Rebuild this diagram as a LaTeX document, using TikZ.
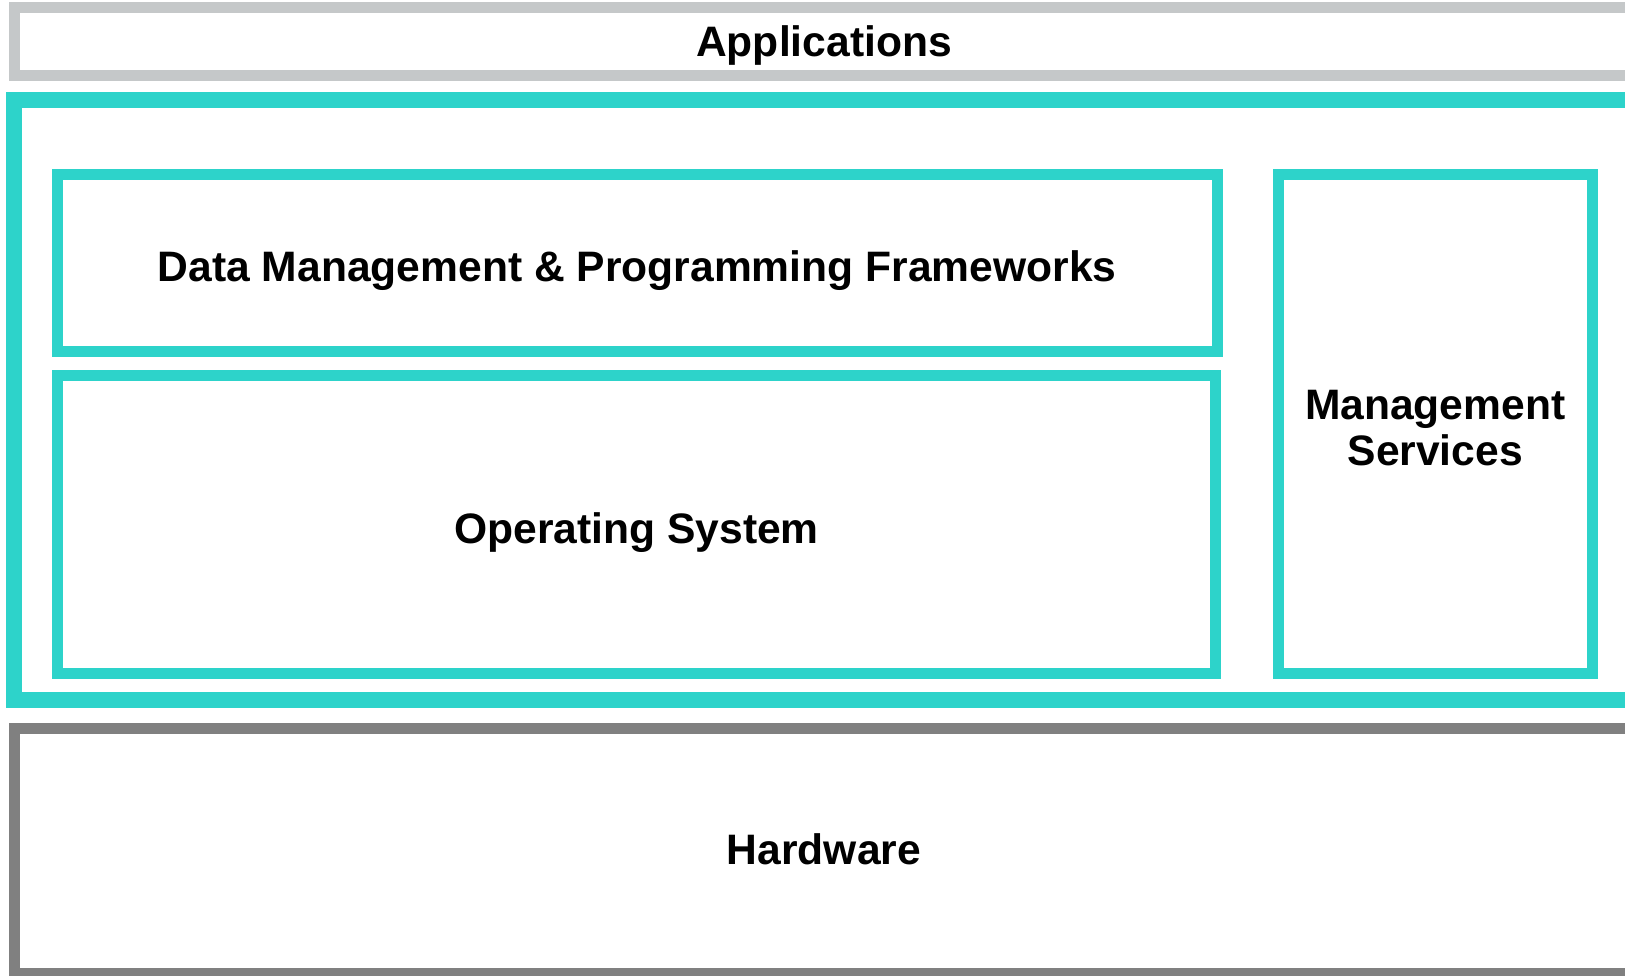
\documentclass[tikz,border=0pt]{standalone}
\usepackage{fontspec}
\setmainfont{Liberation Sans}
\definecolor{appgray}{HTML}{C5C8C9}
\definecolor{tealc}{HTML}{2DD3CA}
\definecolor{hwgray}{HTML}{808080}
\begin{document}
\begin{tikzpicture}[x=1pt,y=-1pt,
  layer/.style={rectangle,inner sep=0pt,outer sep=0pt,anchor=center,fill=white},
  txt/.style={inner sep=0pt,outer sep=0pt,anchor=center,
    font=\fontsize{42.6}{46}\selectfont\bfseries,align=center},
  appbox/.style={layer,draw=appgray,line width=11pt},
  bigbox/.style={layer,draw=tealc,line width=16pt},
  tealbox/.style={layer,draw=tealc,line width=11pt},
  hwbox/.style={layer,draw=hwgray,line width=11pt}]
\useasboundingbox (0,0) rectangle (1625,976);
\node[appbox,minimum width=1620pt,minimum height=68pt] (apps) at (824,42) {};
\node[txt] (appst) at ([yshift=-3pt]apps.center) {Applications};
\node[bigbox,minimum width=1620pt,minimum height=600pt] (mw) at (824,400) {};
\node[tealbox,minimum width=1159.5pt,minimum height=176.5pt] (dm) at (637.25,263.25) {};
\node[txt] (dmt) at ([yshift=-7.5pt]dm.center) {Data Management \& Programming Frameworks};
\node[tealbox,minimum width=1158pt,minimum height=298pt] (os) at (636.5,524.5) {};
\node[txt] (ost) at ([yshift=-8pt]os.center) {Operating System};
\node[tealbox,minimum width=314.5pt,minimum height=498.5pt] (ms) at (1435.25,424.25) {};
\node[txt] (mst) at ([yshift=-4pt]ms.center) {Management\\Services};
\node[hwbox,minimum width=1620pt,minimum height=245pt] (hw) at (824,851) {};
\node[txt] (hwt) at ([yshift=2pt]hw.center) {Hardware};
\end{tikzpicture}
\end{document}
